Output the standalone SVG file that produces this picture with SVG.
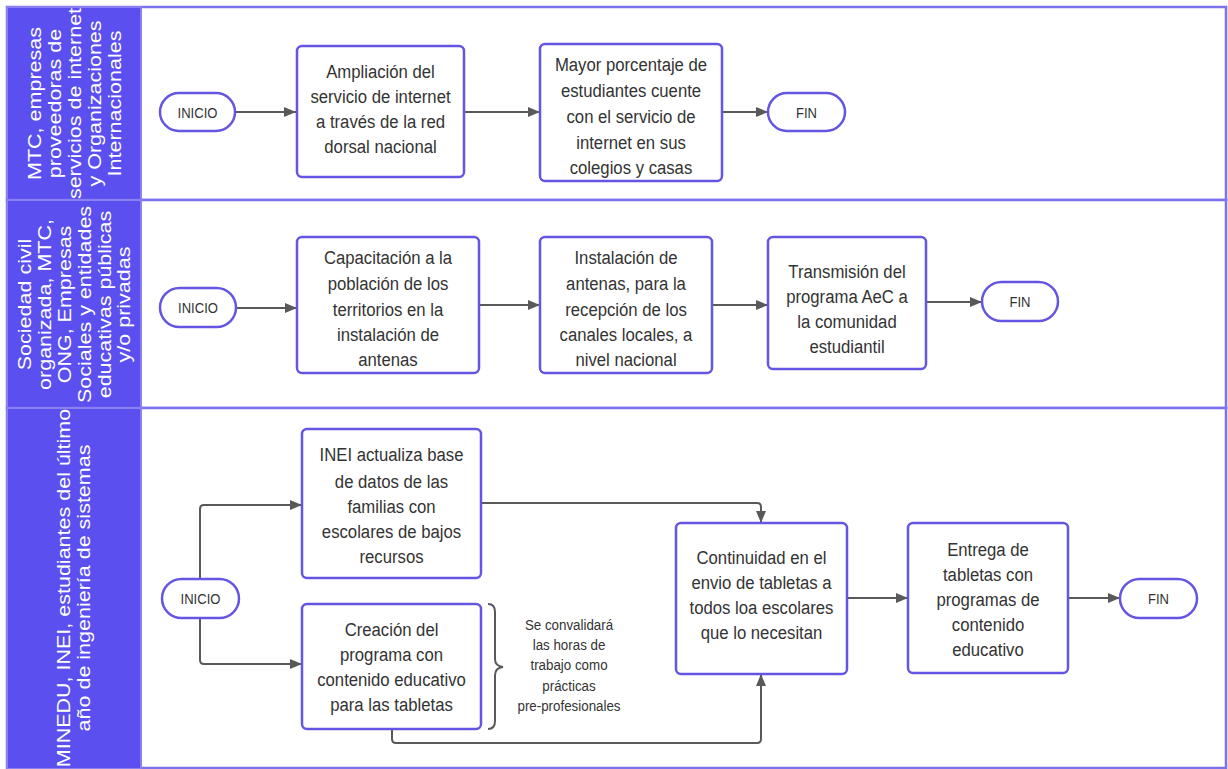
<svg xmlns="http://www.w3.org/2000/svg" width="1228" height="769" viewBox="0 0 1228 769">
<style>
.lane{fill:#ffffff;stroke:#7d72ee;stroke-width:2.5}
.hdr{fill:#5b4ff0;stroke:#8a80f2;stroke-width:2}
.htxt{font-family:"Liberation Sans",Arial,sans-serif;font-size:21.5px;fill:#ffffff;text-anchor:middle}
.box{fill:#ffffff;stroke:#6455e2;stroke-width:2.5}
.pill{fill:#ffffff;stroke:#6455e2;stroke-width:2.5}
.t{font-family:"Liberation Sans",Arial,sans-serif;font-size:19px;fill:#333333;text-anchor:middle}
.pt{font-family:"Liberation Sans",Arial,sans-serif;font-size:15px;fill:#333333;text-anchor:middle}
.nt{font-family:"Liberation Sans",Arial,sans-serif;font-size:15px;fill:#333333;text-anchor:middle}
.c{fill:none;stroke:#595959;stroke-width:2}
</style>
<defs>
<marker id="ah" markerUnits="userSpaceOnUse" markerWidth="14" markerHeight="12" refX="12" refY="6" orient="auto">
<path d="M0,1 L12,6 L0,11 Z" fill="#595959"/>
</marker>
</defs>
<rect x="0" y="0" width="1228" height="769" fill="#ffffff"/>

<g id="lane1">
<rect class="lane" x="7" y="7" width="1219" height="193"/>
<rect class="hdr" x="7" y="7" width="134" height="193"/>
<g transform="translate(74,103.5) rotate(-90) scale(1,0.88)">
<text class="htxt" x="0" y="-38">MTC, empresas</text>
<text class="htxt" x="0" y="-15.2">proveedoras de</text>
<text class="htxt" x="0" y="7.5">servicios de internet</text>
<text class="htxt" x="0" y="30.2">y Organizaciones</text>
<text class="htxt" x="0" y="53">Internacionales</text>
</g>
</g>
<g id="lane2">
<rect class="lane" x="7" y="200" width="1219" height="208"/>
<rect class="hdr" x="7" y="200" width="134" height="208"/>
<g transform="translate(74,304.5) rotate(-90) scale(1,0.88)">
<text class="htxt" x="0" y="-49.3">Sociedad civil</text>
<text class="htxt" x="0" y="-26.6">organizada, MTC,</text>
<text class="htxt" x="0" y="-3.9">ONG, Empresas</text>
<text class="htxt" x="0" y="18.8">Sociales y entidades</text>
<text class="htxt" x="0" y="41.5">educativas públicas</text>
<text class="htxt" x="0" y="64.2">y/o privadas</text>
</g>
</g>
<g id="lane3">
<rect class="lane" x="7" y="408" width="1219" height="360"/>
<rect class="hdr" x="7" y="408" width="134" height="361"/>
<g transform="translate(74,588) rotate(-90) scale(1,0.88)">
<text class="htxt" x="0" y="-4">MINEDU, INEI, estudiantes del último</text>
<text class="htxt" x="0" y="18.7">año de ingeniería de sistemas</text>
</g>
</g>

<g id="connectors">
<path class="c" d="M235 112 H296" marker-end="url(#ah)"/>
<path class="c" d="M464 112 H540" marker-end="url(#ah)"/>
<path class="c" d="M722 112 H768" marker-end="url(#ah)"/>
<path class="c" d="M236 308 H297" marker-end="url(#ah)"/>
<path class="c" d="M479 305 H540" marker-end="url(#ah)"/>
<path class="c" d="M712 305 H768" marker-end="url(#ah)"/>
<path class="c" d="M926 302 H982" marker-end="url(#ah)"/>
<path class="c" d="M200 579 V509 Q200 505 204 505 H302" marker-end="url(#ah)"/>
<path class="c" d="M200 618 V660 Q200 664 204 664 H302" marker-end="url(#ah)"/>
<path class="c" d="M481 503 H757 Q761 503 761 507 V523" marker-end="url(#ah)"/>
<path class="c" d="M392 729 V739 Q392 743 396 743 H757 Q761 743 761 739 V674" marker-end="url(#ah)"/>
<path class="c" d="M847 598 H908" marker-end="url(#ah)"/>
<path class="c" d="M1068 598 H1120" marker-end="url(#ah)"/>
</g>

<g id="inicio1">
<rect class="pill" x="160" y="93" width="75" height="38" rx="19"/>
<text class="pt" transform="translate(197.5,117.5) scale(0.87,1)">INICIO</text>
</g>
<g id="n1">
<rect class="box" x="297" y="46" width="167" height="131" rx="5"/>
<g transform="translate(380.5,0) scale(0.88,1)">
<text class="t" x="0" y="78">Ampliación del</text>
<text class="t" x="0" y="103">servicio de internet</text>
<text class="t" x="0" y="128">a través de la red</text>
<text class="t" x="0" y="153">dorsal nacional</text>
</g>
</g>
<g id="n2">
<rect class="box" x="540" y="44" width="182" height="137" rx="5"/>
<g transform="translate(631,0) scale(0.88,1)">
<text class="t" x="0" y="71">Mayor porcentaje de</text>
<text class="t" x="0" y="97">estudiantes cuente</text>
<text class="t" x="0" y="123">con el servicio de</text>
<text class="t" x="0" y="149">internet en sus</text>
<text class="t" x="0" y="174">colegios y casas</text>
</g>
</g>
<g id="fin1">
<rect class="pill" x="768" y="93" width="77" height="38" rx="19"/>
<text class="pt" transform="translate(806.5,117.5) scale(0.87,1)">FIN</text>
</g>

<g id="inicio2">
<rect class="pill" x="160" y="288" width="76" height="39" rx="19.5"/>
<text class="pt" transform="translate(198,313) scale(0.87,1)">INICIO</text>
</g>
<g id="n3">
<rect class="box" x="297" y="237" width="182" height="136" rx="5"/>
<g transform="translate(388,0) scale(0.88,1)">
<text class="t" x="0" y="264">Capacitación a la</text>
<text class="t" x="0" y="290">población de los</text>
<text class="t" x="0" y="316">territorios en la</text>
<text class="t" x="0" y="341">instalación de</text>
<text class="t" x="0" y="366">antenas</text>
</g>
</g>
<g id="n4">
<rect class="box" x="540" y="237" width="172" height="136" rx="5"/>
<g transform="translate(626,0) scale(0.88,1)">
<text class="t" x="0" y="264">Instalación de</text>
<text class="t" x="0" y="290">antenas, para la</text>
<text class="t" x="0" y="316">recepción de los</text>
<text class="t" x="0" y="341">canales locales, a</text>
<text class="t" x="0" y="366">nivel nacional</text>
</g>
</g>
<g id="n5">
<rect class="box" x="768" y="237" width="158" height="132" rx="5"/>
<g transform="translate(847,0) scale(0.88,1)">
<text class="t" x="0" y="278">Transmisión del</text>
<text class="t" x="0" y="303">programa AeC a</text>
<text class="t" x="0" y="328">la comunidad</text>
<text class="t" x="0" y="353">estudiantil</text>
</g>
</g>
<g id="fin2">
<rect class="pill" x="982" y="282" width="76" height="39" rx="19.5"/>
<text class="pt" transform="translate(1020,307) scale(0.87,1)">FIN</text>
</g>

<g id="inicio3">
<rect class="pill" x="162" y="579" width="77" height="39" rx="19.5"/>
<text class="pt" transform="translate(200.5,604) scale(0.87,1)">INICIO</text>
</g>
<g id="n6">
<rect class="box" x="302" y="429" width="179" height="149" rx="5"/>
<g transform="translate(391.5,0) scale(0.88,1)">
<text class="t" x="0" y="461">INEI actualiza base</text>
<text class="t" x="0" y="488">de datos de las</text>
<text class="t" x="0" y="513">familias con</text>
<text class="t" x="0" y="538">escolares de bajos</text>
<text class="t" x="0" y="563">recursos</text>
</g>
</g>
<g id="n7">
<rect class="box" x="302" y="604" width="179" height="125" rx="5"/>
<g transform="translate(391.5,0) scale(0.88,1)">
<text class="t" x="0" y="636">Creación del</text>
<text class="t" x="0" y="661">programa con</text>
<text class="t" x="0" y="686">contenido educativo</text>
<text class="t" x="0" y="711">para las tabletas</text>
</g>
</g>
<g id="note">
<path class="c" d="M488 604 Q495 604 495 612 V659 Q495 666 503 667 Q495 668 495 675 V721 Q495 729 488 729"/>
<g transform="translate(569,0) scale(0.89,1)">
<text class="nt" x="0" y="630">Se convalidará</text>
<text class="nt" x="0" y="650">las horas de</text>
<text class="nt" x="0" y="670">trabajo como</text>
<text class="nt" x="0" y="691">prácticas</text>
<text class="nt" x="0" y="711">pre-profesionales</text>
</g>
</g>
<g id="n8">
<rect class="box" x="676" y="523" width="171" height="151" rx="5"/>
<g transform="translate(761.5,0) scale(0.88,1)">
<text class="t" x="0" y="564">Continuidad en el</text>
<text class="t" x="0" y="589">envio de tabletas a</text>
<text class="t" x="0" y="614">todos loa escolares</text>
<text class="t" x="0" y="639">que lo necesitan</text>
</g>
</g>
<g id="n9">
<rect class="box" x="908" y="523" width="160" height="150" rx="5"/>
<g transform="translate(988,0) scale(0.88,1)">
<text class="t" x="0" y="556">Entrega de</text>
<text class="t" x="0" y="581">tabletas con</text>
<text class="t" x="0" y="606">programas de</text>
<text class="t" x="0" y="631">contenido</text>
<text class="t" x="0" y="656">educativo</text>
</g>
</g>
<g id="fin3">
<rect class="pill" x="1120" y="579" width="77" height="39" rx="19.5"/>
<text class="pt" transform="translate(1158.5,604) scale(0.87,1)">FIN</text>
</g>
</svg>
